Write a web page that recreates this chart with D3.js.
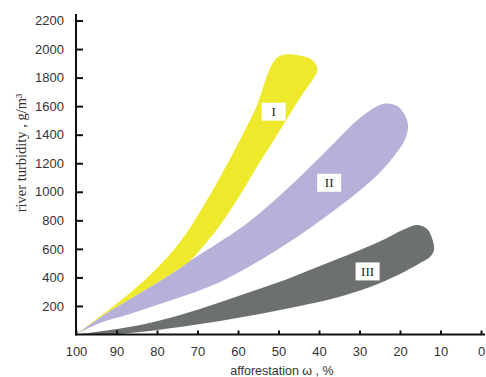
<!DOCTYPE html>
<html>
<head>
<meta charset="utf-8">
<script src="https://cdn.jsdelivr.net/npm/d3@7"></script>
<style>
  html, body { margin: 0; padding: 0; background: #fff; }
  svg { display: block; }
</style>
</head>
<body>
<div id="chart"></div>
<script>
// afforestation (%) vs river turbidity (g/m3), band outlines
const xTicks = [100, 90, 80, 70, 60, 50, 40, 30, 20, 10, 0];
const yTicks = [200, 400, 600, 800, 1000, 1200, 1400, 1600, 1800, 2000, 2200];

// band I (yellow): upper edge from origin to the tip, then cap + lower edge back to origin
const bandIUpper = [[100, 0], [95.3, 102], [89.1, 235], [81.7, 417], [74.3, 648], [68.1, 921],
  [62, 1230], [55.8, 1573], [50.1, 1944], [44.2, 1951]];
const bandILower = [[41.7, 1923], [40.5, 1874], [40.5, 1839], [44.7, 1657], [49.6, 1433],
  [54.6, 1209], [59.5, 977], [64.4, 767], [69.4, 592], [71.9, 515], [74.3, 466], [80.5, 354],
  [86.7, 249], [92.8, 144], [100, 0]];

// band II (lavender)
const bandIIUpper = [[100, 0], [92.8, 144], [86.7, 249], [80.5, 354], [74.3, 466], [71.9, 515],
  [65.7, 627], [58.3, 767], [50.9, 942], [43.5, 1138], [36, 1349], [29.9, 1517], [24.2, 1615]];
const bandIILower = [[20.7, 1601], [18.8, 1538], [18, 1454], [18.8, 1363], [20, 1307],
  [23.7, 1174], [28.6, 1040], [34.8, 900], [42.2, 746], [49.6, 606], [57, 480], [64.4, 368],
  [71.9, 284], [79.3, 214], [86.7, 144], [94.1, 81], [100, 0]];

// band III (grey)
const bandIIIUpper = [[100, 0], [91.6, 32], [83, 74], [74.3, 137], [65.7, 214], [57, 298],
  [48.4, 382], [39.8, 480], [31.1, 578], [23.7, 669], [18.8, 739], [15.6, 767]];
const bandIIILower = [[13.3, 739], [12.1, 676], [11.6, 592], [12.6, 543], [14.6, 508], [20, 424],
  [27.4, 333], [36, 256], [44.7, 200], [54.6, 144], [64.4, 95], [74.3, 53], [84.2, 18],
  [91.6, 0], [100, 0]];

const bandLabels = ['I', 'II', 'III'];
const labelPos = [[51.2, 1561], [37.5, 1063], [28, 442]];

const width = 486, height = 377;

const svg = d3.select('#chart').append('svg')
  .attr('width', width).attr('height', height);

const x = d3.scaleLinear().domain([100, 0]).range([76, 481]);
const y = d3.scaleLinear().domain([0, 2200]).range([334.5, 20.5]);

const outline = d3.line()
  .x(d => x(d[0])).y(d => y(d[1]))
  .curve(d3.curveCatmullRom.alpha(0.5));

const bands = [
  { pts: bandIIIUpper.concat(bandIIILower), fill: '#6d7071' },
  { pts: bandIIUpper.concat(bandIILower), fill: '#b7b1d9' },
  { pts: bandIUpper.concat(bandILower), fill: '#efe92b' },
];

svg.append('g').selectAll('path.band')
  .data(bands)
  .join('path')
  .attr('class', 'band')
  .attr('d', d => outline(d.pts) + 'Z')
  .attr('fill', d => d.fill);

// label boxes
const lab = svg.append('g').selectAll('g.lab')
  .data(bandLabels)
  .join('g')
  .attr('class', 'lab')
  .attr('transform', (d, i) => `translate(${x(labelPos[i][0])},${y(labelPos[i][1])})`);

lab.append('rect')
  .attr('x', -12).attr('y', -9).attr('width', 24).attr('height', 18)
  .attr('fill', '#fff');

lab.append('text')
  .attr('text-anchor', 'middle').attr('dy', '0.36em')
  .attr('font-family', '"Liberation Serif", "DejaVu Serif", serif')
  .attr('font-size', 13).attr('fill', '#222')
  .text(d => d);

// axes
const font = '"Liberation Sans", Arial, sans-serif';
const fmt = d3.format('d');

const yAxis = svg.append('g')
  .attr('transform', 'translate(76,0)')
  .call(d3.axisLeft(y).tickValues(yTicks).tickFormat(fmt)
    .tickSizeInner(-7).tickSizeOuter(0).tickPadding(12));
yAxis.select('.domain').remove();
yAxis.selectAll('.tick line').attr('stroke', '#111').attr('stroke-width', 2);
yAxis.selectAll('.tick text').attr('font-family', font).attr('font-size', 13).attr('fill', '#333');

const xAxis = svg.append('g')
  .attr('transform', 'translate(0,334.5)')
  .call(d3.axisBottom(x).tickValues(xTicks).tickFormat(fmt)
    .tickSizeInner(-4).tickSizeOuter(0).tickPadding(12));
xAxis.select('.domain').remove();
xAxis.selectAll('.tick line').attr('stroke', '#111').attr('stroke-width', 2);
xAxis.selectAll('.tick text').attr('font-family', font).attr('font-size', 13).attr('fill', '#333');

svg.append('line')
  .attr('x1', 76).attr('x2', 76).attr('y1', 335.5).attr('y2', 14)
  .attr('stroke', '#111').attr('stroke-width', 2);
svg.append('line')
  .attr('x1', 75).attr('x2', 485).attr('y1', 334.5).attr('y2', 334.5)
  .attr('stroke', '#111').attr('stroke-width', 2);

// titles
svg.append('text')
  .attr('x', 282).attr('y', 375)
  .attr('text-anchor', 'middle')
  .attr('font-family', font).attr('font-size', 12.5).attr('fill', '#333')
  .text('afforestation ω , %');

svg.append('text')
  .attr('transform', 'translate(26,153) rotate(-90)')
  .attr('text-anchor', 'middle')
  .attr('font-family', '"Liberation Serif", "Times New Roman", serif')
  .attr('font-size', 14.5).attr('fill', '#333')
  .text('river turbidity , g/m³');
</script>
</body>
</html>
